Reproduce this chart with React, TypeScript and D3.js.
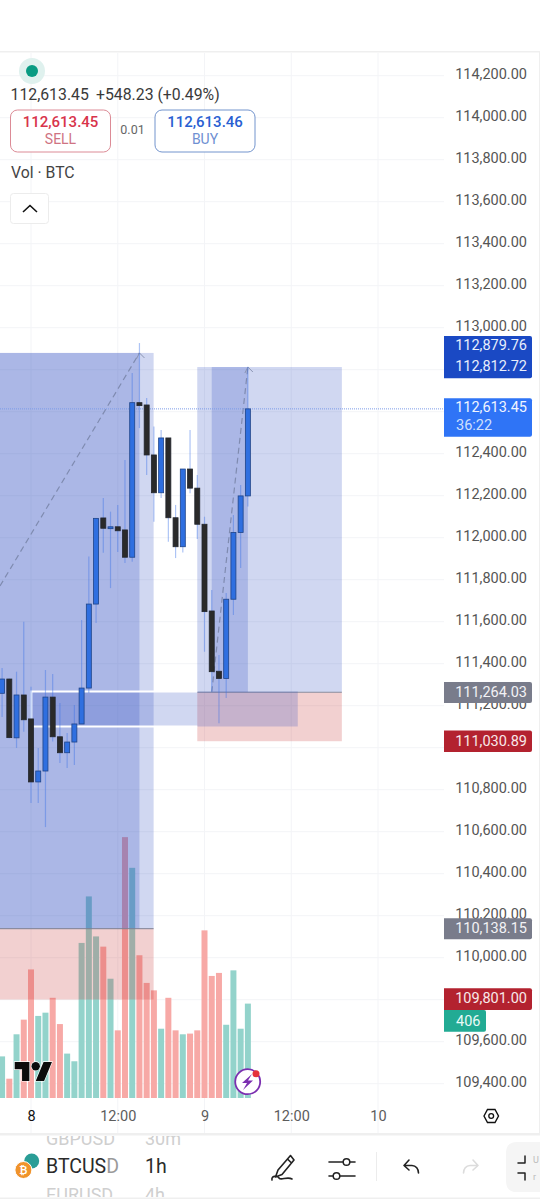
import React, { useEffect, useRef } from "react";
import * as d3 from "d3";

// hours counted from 8th 00:00, first candle is partly off the left edge
const candleHours = [-4, -3, -2, -1, 0, 1, 2, 3, 4, 5, 6, 7, 8, 9, 10, 11, 12, 13, 14, 15, 16, 17, 18, 19, 20, 21, 22, 23, 24, 25, 26, 27, 28, 29, 30];
const opens = [111259, 111327, 111047, 111251, 111137, 110837, 110889, 111241, 111052, 110976, 111027, 111113, 111284, 111684, 112094, 112043, 112052, 112037, 111907, 112643, 112632, 112394, 112214, 112475, 112095, 111957, 112327, 112236, 112064, 111651, 111364, 111330, 111707, 112025, 112199];
const highs = [111379, 111330, 111362, 111600, 111290, 110999, 111370, 111351, 111213, 111070, 111203, 111608, 111910, 112094, 112189, 112124, 112156, 112370, 112784, 112927, 112665, 112529, 112513, 112475, 112156, 112327, 112513, 112299, 112100, 111751, 111441, 111737, 112108, 112251, 112814];
const lows = [111146, 111045, 110999, 111076, 110737, 110737, 110622, 111029, 110927, 110903, 110918, 111113, 111260, 111594, 111928, 111760, 111932, 111880, 111886, 112522, 112299, 112076, 112189, 111981, 111903, 111929, 112212, 111994, 111457, 111267, 111116, 111237, 111632, 111856, 112148];
const closes = [111327, 111048, 111251, 111133, 110837, 110889, 111241, 111052, 110976, 111027, 111113, 111284, 111684, 112092, 112045, 112052, 112033, 111907, 112643, 112629, 112394, 112214, 112475, 112095, 111957, 112327, 112236, 112064, 111648, 111362, 111330, 111707, 112025, 112199, 112613.45];
const volumes = [179, 83, 274, 337, 553, 353, 367, 431, 318, 191, 158, 667, 867, 695, 651, 513, 291, 1122, 990, 614, 495, 463, 298, 431, 291, 274, 277, 291, 721, 525, 538, 315, 549, 298, 406];

const priceTicks = d3.range(109400, 114400, 200);
// these four sit completely behind the price tags
const hiddenTicks = [112800, 112600, 111000, 109800];
const timeTicks = [0, 12, 24, 36, 48];
const timeLabels = ["8", "12:00", "9", "12:00", "10"];

const FONT = "Roboto, sans-serif";
const BLUE = "rgba(41,75,190,0.22)";
const RED = "rgba(200,60,60,0.24)";

const App = () => {
  const ref = useRef<SVGSVGElement>(null);

  useEffect(() => {
    drawChart();
  }, []);

  function drawChart() {
    const svg = d3.select(ref.current);
    svg.selectAll("*").remove();

    const x = d3.scaleLinear().domain([0, 24]).range([31, 204.5]);
    const y = d3.scaleLinear().domain([109400, 114200]).range([1083.7, 75.7]);
    const v = d3.scaleLinear().domain([0, 1200]).range([1098, 819]);

    svg.append("rect").attr("width", 540).attr("height", 1200).attr("fill", "#fff");

    svg.append("defs").append("clipPath").attr("id", "plot")
      .append("rect").attr("x", 0).attr("y", 53).attr("width", 444).attr("height", 1080);
    svg.select("defs").append("clipPath").attr("id", "symbols")
      .append("rect").attr("x", 0).attr("y", 1136).attr("width", 540).attr("height", 61);

    // Grid
    svg.append("g").selectAll("line").data(priceTicks).join("line")
      .attr("x1", 0).attr("x2", 444)
      .attr("y1", (d) => y(d)).attr("y2", (d) => y(d))
      .attr("stroke", "#f3f4f7");
    svg.append("g").selectAll("line").data(timeTicks).join("line")
      .attr("x1", (d) => x(d)).attr("x2", (d) => x(d))
      .attr("y1", 53).attr("y2", 1133)
      .attr("stroke", "#f3f4f7");

    const plot = svg.append("g").attr("clip-path", "url(#plot)");

    // Volume bars
    plot.append("g").selectAll("rect").data(candleHours).join("rect")
      .attr("x", (d) => x(d) - 3)
      .attr("width", 6)
      .attr("y", (d, i) => v(volumes[i]))
      .attr("height", (d, i) => v(0) - v(volumes[i]))
      .attr("fill", (d, i) => (closes[i] >= opens[i] ? "#93d3cb" : "#f7a9a6"));

    // Position tools
    const zone = (h0, h1, p0, p1, fill) =>
      plot.append("rect")
        .attr("x", x(h0)).attr("width", x(h1) - x(h0))
        .attr("y", y(p0)).attr("height", y(p1) - y(p0))
        .attr("fill", fill);

    zone(-5, 16.96, 112879.76, 110138.15, BLUE);
    zone(-5, 15, 112879.76, 110138.15, BLUE);
    zone(-5, 16.96, 110138.15, 109801, RED);
    plot.append("line")
      .attr("x1", 0).attr("x2", x(16.96)).attr("y1", y(110138.15)).attr("y2", y(110138.15))
      .attr("stroke", "#7d7f92").attr("stroke-width", 1);

    zone(23, 43, 112812.72, 111264.03, BLUE);
    zone(25, 30, 112812.72, 111264.03, BLUE);
    zone(23, 43, 111264.03, 111030.89, RED);
    plot.append("line")
      .attr("x1", x(23)).attr("x2", x(43)).attr("y1", y(111264.03)).attr("y2", y(111264.03))
      .attr("stroke", "#8b8d9c").attr("stroke-width", 1);

    // White framed range box
    zone(0.05, 36.9, 111268, 111101, BLUE);
    plot.append("path")
      .attr("d", `M${x(23)},${y(111268)}H${x(0.05)}V${y(111101)}H${x(23)}`)
      .attr("fill", "none").attr("stroke", "#fff").attr("stroke-width", 2);

    // Dashed trend arrows
    const trend = d3.line<number[]>().x((d) => x(d[0])).y((d) => y(d[1]));
    const arrows = [
      [[-4.29, 111770], [15, 112879.76]],
      [[25, 111264.03], [30, 112812.72]],
    ];
    plot.append("g").selectAll("path").data(arrows).join("path")
      .attr("d", trend)
      .attr("fill", "none").attr("stroke", "#7f8bb0").attr("stroke-width", 1.2).attr("stroke-dasharray", "6 4");
    plot.append("g").selectAll("path").data(arrows).join("path")
      .attr("d", (d) => {
        const tx = x(d[1][0]);
        const ty = y(d[1][1]);
        return `M${tx - 3},${ty + 6}L${tx},${ty}L${tx + 5},${ty + 5}`;
      })
      .attr("fill", "none").attr("stroke", "#8a94b2").attr("stroke-width", 1);

    // Last price line
    plot.append("line")
      .attr("x1", 0).attr("x2", 444).attr("y1", y(112613.45)).attr("y2", y(112613.45))
      .attr("stroke", "#7a9be8").attr("stroke-width", 1).attr("stroke-dasharray", "1 1");

    // Candles
    plot.append("g").selectAll("line").data(candleHours).join("line")
      .attr("x1", (d) => x(d)).attr("x2", (d) => x(d))
      .attr("y1", (d, i) => y(highs[i])).attr("y2", (d, i) => y(lows[i]))
      .attr("stroke", "rgba(60,115,230,0.42)").attr("stroke-width", 1.2);
    plot.append("g").selectAll("rect").data(candleHours).join("rect")
      .attr("x", (d) => x(d) - 2.5)
      .attr("width", 5)
      .attr("y", (d, i) => y(Math.max(opens[i], closes[i])))
      .attr("height", (d, i) => Math.max(1, Math.abs(y(opens[i]) - y(closes[i]))))
      .attr("fill", (d, i) => (closes[i] >= opens[i] ? "#2f6fe0" : "#2a2a2a"))
      .attr("stroke", (d, i) => (closes[i] >= opens[i] ? "#1f4488" : "#22262e"))
      .attr("stroke-width", 0.8);

    // Price axis
    const yAxis = svg.append("g").attr("transform", "translate(527,0)")
      .call(
        d3.axisRight(y)
          .tickValues(priceTicks.filter((d) => !hiddenTicks.includes(d)))
          .tickSize(0)
          .tickFormat(d3.format(",.2f"))
      );
    yAxis.select(".domain").remove();
    yAxis.selectAll("text")
      .attr("x", 0).attr("y", -1.5)
      .attr("text-anchor", "end")
      .attr("font-family", FONT).attr("font-size", 14.5).attr("fill", "#555");

    // Time axis
    const xAxis = svg.append("g").attr("transform", "translate(0,1116)")
      .call(d3.axisBottom(x).tickValues(timeTicks).tickSize(0).tickFormat((d, i) => timeLabels[i]));
    xAxis.select(".domain").remove();
    xAxis.selectAll("text")
      .attr("y", 0).attr("dy", "0.36em")
      .attr("font-family", FONT).attr("font-size", 14.5)
      .attr("fill", (d) => (d === 0 ? "#111" : "#5c5c5c"));

    const text = (tx, ty, str, size, fill, anchor = "start", weight = 400) =>
      svg.append("text")
        .attr("x", tx).attr("y", ty).attr("dy", "0.36em")
        .attr("text-anchor", anchor)
        .attr("font-family", FONT).attr("font-size", size).attr("font-weight", weight)
        .attr("fill", fill)
        .text(str);

    // Price tags on the axis
    const tag = (top, bottom, fill, right = 532) =>
      svg.append("path")
        .attr("d", `M444,${top}H${right - 2}Q${right},${top} ${right},${top + 2}V${bottom - 2}Q${right},${bottom} ${right - 2},${bottom}H444Z`)
        .attr("fill", fill);
    const fmt = d3.format(",.2f");

    tag(336, 378.3, "#1a49c4");
    text(527, 344.5, fmt(112879.76), 14.5, "#e8eefc", "end");
    text(527, 366, fmt(112812.72), 14.5, "#e8eefc", "end");
    tag(398.3, 436.7, "#2f74f6");
    text(527, 407, fmt(112613.45), 14.5, "#f0f5ff", "end");
    text(456, 425, "36:22", 14.5, "#cfe0fd");
    tag(682, 703, "#797c8b");
    text(527, 692, fmt(111264.03), 14.5, "#f2f2f5", "end");
    tag(730.5, 752, "#b3222f");
    text(527, 741, fmt(111030.89), 14.5, "#f8e8e9", "end");
    tag(918.3, 939.3, "#797c8b");
    text(527, 928, fmt(110138.15), 14.5, "#f2f2f5", "end");
    tag(988.3, 1010, "#b3222f");
    text(527, 998, fmt(109801), 14.5, "#f8e8e9", "end");
    tag(1010, 1031.7, "#22ab94", 486);
    text(456, 1021, "406", 14.5, "#eafaf7");

    // Chart frame
    svg.append("rect").attr("x", 0).attr("y", 51).attr("width", 540).attr("height", 1.5).attr("fill", "#efefef");
    svg.append("rect").attr("x", 539).attr("y", 52).attr("width", 1).attr("height", 1082).attr("fill", "#efefef");

    // Header
    svg.append("circle").attr("cx", 32).attr("cy", 71).attr("r", 13).attr("fill", "#dff1ee");
    svg.append("circle").attr("cx", 32).attr("cy", 71).attr("r", 6).attr("fill", "#089b82");
    text(10.5, 94, "112,613.45", 15.8, "#3a3a3a");
    text(96, 94, "+548.23 (+0.49%)", 15.8, "#3a3a3a");

    const button = (bx, stroke) =>
      svg.append("rect")
        .attr("x", bx).attr("y", 110).attr("width", 100).attr("height", 42).attr("rx", 7)
        .attr("fill", "#fff").attr("stroke", stroke);
    button(10.5, "#dc8b96");
    text(60.5, 121.5, "112,613.45", 15, "#d8344b", "middle", 500);
    text(60.5, 138.5, "SELL", 14, "#cf7382", "middle");
    text(132.5, 129.5, "0.01", 12.5, "#666", "middle");
    button(155, "#7394cd");
    text(205, 121.5, "112,613.46", 15, "#2a5fd2", "middle", 500);
    text(205, 138.5, "BUY", 14, "#6f90d2", "middle");
    text(11, 172, "Vol · BTC", 15.8, "#444");

    svg.append("rect").attr("x", 10.5).attr("y", 193.5).attr("width", 38).attr("height", 30).attr("rx", 3)
      .attr("fill", "#fff").attr("stroke", "#ececec");
    svg.append("path").attr("d", "M23,212L30,205.5L37,212")
      .attr("fill", "none").attr("stroke", "#111").attr("stroke-width", 1.6);

    // TradingView mark
    const logo = svg.append("g").attr("transform", "translate(14.7,1057.8) scale(1.05)");
    const logoShape = (g) => {
      g.append("path").attr("d", "M14 22H7V11H0V4h14v18zM28 22h-8l7.5-18h8L28 22z");
      g.append("circle").attr("cx", 20).attr("cy", 8).attr("r", 4);
    };
    logo.call(logoShape);
    logo.attr("fill", "#0c0c0c").attr("stroke", "#fff").attr("stroke-width", 1.2).attr("paint-order", "stroke");

    // Lightning badge
    svg.append("circle").attr("cx", 247.7).attr("cy", 1081.7).attr("r", 12.5)
      .attr("fill", "#fff").attr("stroke", "#7b2fb0").attr("stroke-width", 1.8);
    svg.append("path").attr("d", "M252,1074L242,1083H247L243,1090L253,1080.5H248Z").attr("fill", "#7b2fb0");
    svg.append("circle").attr("cx", 256).attr("cy", 1073.7).attr("r", 3.5).attr("fill", "#e5323c");

    // Settings hexagon
    svg.append("path").attr("d", "M484,1116L487.5,1109.5H495L498.5,1116L495,1122.5H487.5Z")
      .attr("fill", "none").attr("stroke", "#111").attr("stroke-width", 1.4);
    svg.append("circle").attr("cx", 491.2).attr("cy", 1116).attr("r", 2.4)
      .attr("fill", "none").attr("stroke", "#111").attr("stroke-width", 1.3);

    // Bottom toolbar
    svg.append("rect").attr("x", 0).attr("y", 1133).attr("width", 540).attr("height", 2.5).attr("fill", "#efefef");
    svg.append("rect").attr("x", 0).attr("y", 1197.5).attr("width", 540).attr("height", 1.5).attr("fill", "#efefef");

    const symbols = svg.append("g").attr("clip-path", "url(#symbols)");
    [["GBPUSD", "30m", 1139], ["EURUSD", "4h", 1195]].forEach((row) => {
      symbols.append("text").attr("x", 46).attr("y", row[2]).attr("dy", "0.36em")
        .attr("font-family", FONT).attr("font-size", 18).attr("fill", "#cfcfcf").text(row[0]);
      symbols.append("text").attr("x", 145).attr("y", row[2]).attr("dy", "0.36em")
        .attr("font-family", FONT).attr("font-size", 18).attr("fill", "#cfcfcf").text(row[1]);
    });
    const pair = text(46, 1166, "BTCUS", 19.5, "#2a2a2a", "start", 400);
    pair.append("tspan").attr("fill", "#9a9a9a").text("D");
    text(145, 1166, "1h", 19.5, "#2a2a2a", "start", 400);

    svg.append("circle").attr("cx", 31.7).attr("cy", 1161).attr("r", 7.5).attr("fill", "#2a9d96");
    svg.append("circle").attr("cx", 23.4).attr("cy", 1170).attr("r", 8.5).attr("fill", "#f0932b").attr("stroke", "#fff");
    text(23.4, 1170, "₿", 10, "#fff", "middle", 700);

    const icon = (d, stroke = "#222", width = 1.6) =>
      svg.append("path").attr("d", d).attr("fill", "none").attr("stroke", stroke)
        .attr("stroke-width", width).attr("stroke-linecap", "round").attr("stroke-linejoin", "round");

    icon("M278,1170L275.5,1177L282,1174.5L294,1160L290.5,1155.5ZM287.5,1159L291.5,1163");
    icon("M272,1180C271,1176 277,1175 279,1178C281,1181 287,1176 292,1179");
    icon("M329,1162H343M350,1162H355M329,1176H333M340,1176H355");
    svg.append("circle").attr("cx", 346.5).attr("cy", 1162).attr("r", 3.3).attr("fill", "none").attr("stroke", "#222").attr("stroke-width", 1.5);
    svg.append("circle").attr("cx", 336.5).attr("cy", 1176).attr("r", 3.3).attr("fill", "none").attr("stroke", "#222").attr("stroke-width", 1.5);
    svg.append("line").attr("x1", 376.5).attr("x2", 376.5).attr("y1", 1152).attr("y2", 1181).attr("stroke", "#ececec");
    icon("M409,1160L404,1165.5L409,1170M404,1165.5H412C416,1165.5 418.5,1169 418.5,1173");
    icon("M473,1160L478,1165.5L473,1170M478,1165.5H470C466,1165.5 463.5,1169 463.5,1173", "#dcdcdc");

    svg.append("path").attr("d", "M540,1142H517Q506,1142 506,1153V1181Q506,1192 517,1192H540Z").attr("fill", "#f5f5f5");
    icon("M525,1156V1163H518M518,1173H525V1180", "#222", 1.5);
    text(533, 1160, "U", 9, "#bbb");
    text(533, 1177, "r", 9, "#bbb");
  }

  return <svg ref={ref} width={540} height={1200} style={{ position: "absolute", left: 0, top: 0 }} />;
};

export default App;
